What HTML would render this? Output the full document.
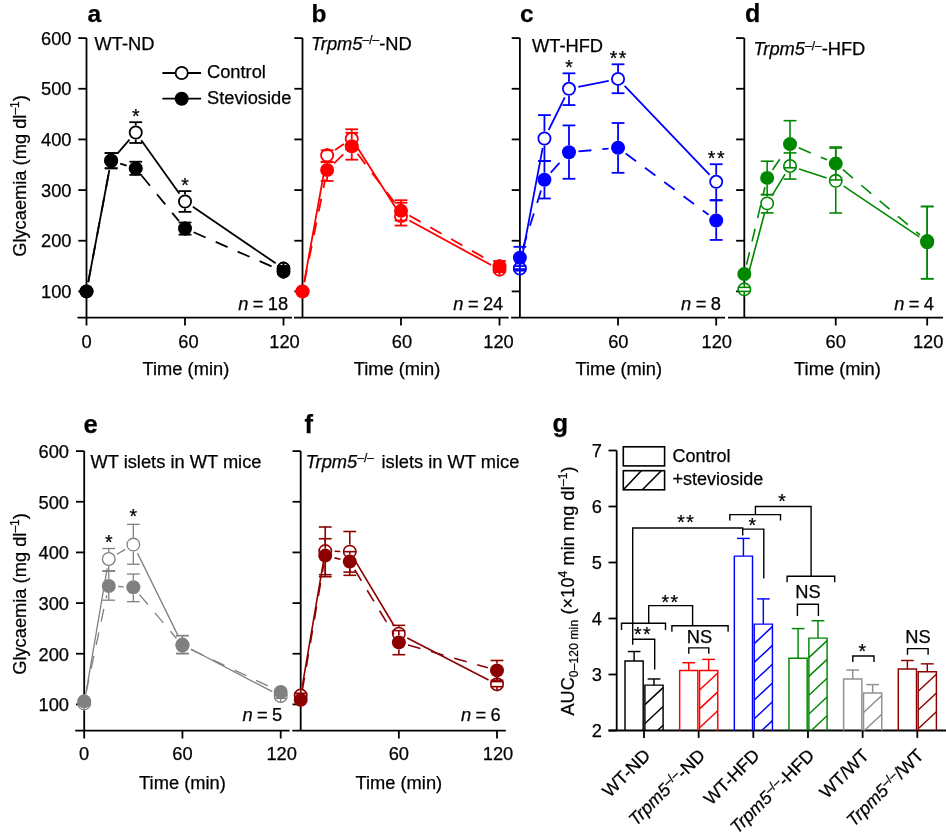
<!DOCTYPE html>
<html><head><meta charset="utf-8"><style>
html,body{margin:0;padding:0;background:#fff;width:946px;height:839px;overflow:hidden;}
svg{will-change:transform;}
svg text{font-family:"Liberation Sans", sans-serif;stroke:#000;stroke-width:0.25px;}
</style></head><body>
<svg width="946" height="839" viewBox="0 0 946 839" style="position:absolute;left:0;top:0">
<g font-family='"Liberation Sans", sans-serif'>
<line x1="86.50" y1="38.10" x2="86.50" y2="325.50" stroke="#000" stroke-width="1.8" />
<line x1="77.50" y1="317.60" x2="292.00" y2="317.60" stroke="#000" stroke-width="1.8" />
<line x1="78.30" y1="291.40" x2="86.50" y2="291.40" stroke="#000" stroke-width="1.8" />
<line x1="78.30" y1="240.74" x2="86.50" y2="240.74" stroke="#000" stroke-width="1.8" />
<line x1="78.30" y1="190.08" x2="86.50" y2="190.08" stroke="#000" stroke-width="1.8" />
<line x1="78.30" y1="139.42" x2="86.50" y2="139.42" stroke="#000" stroke-width="1.8" />
<line x1="78.30" y1="88.76" x2="86.50" y2="88.76" stroke="#000" stroke-width="1.8" />
<line x1="78.30" y1="38.10" x2="86.50" y2="38.10" stroke="#000" stroke-width="1.8" />
<line x1="185.00" y1="317.60" x2="185.00" y2="325.50" stroke="#000" stroke-width="1.8" />
<line x1="283.50" y1="317.60" x2="283.50" y2="325.50" stroke="#000" stroke-width="1.8" />
<path d="M88.26,282.06 L109.37,170.03 M117.37,153.54 L129.50,139.64 M141.27,140.21 L179.48,193.75 M192.85,206.83 L275.65,263.25 " fill="none" stroke="#000" stroke-width="1.8"/>
<circle cx="86.50" cy="291.40" r="6.10" fill="#fff" stroke="#000" stroke-width="1.8"/>
<circle cx="111.12" cy="160.70" r="6.10" fill="#fff" stroke="#000" stroke-width="1.8"/>
<circle cx="135.75" cy="132.48" r="6.10" fill="#fff" stroke="#000" stroke-width="1.8"/>
<circle cx="185.00" cy="201.48" r="6.10" fill="#fff" stroke="#000" stroke-width="1.8"/>
<circle cx="283.50" cy="268.60" r="6.10" fill="#fff" stroke="#000" stroke-width="1.8"/>
<line x1="111.12" y1="153.10" x2="111.12" y2="153.70" stroke="#000" stroke-width="1.8" />
<line x1="111.12" y1="167.70" x2="111.12" y2="168.30" stroke="#000" stroke-width="1.8" />
<line x1="104.72" y1="153.10" x2="117.53" y2="153.10" stroke="#000" stroke-width="1.8" />
<line x1="104.72" y1="168.30" x2="117.53" y2="168.30" stroke="#000" stroke-width="1.8" />
<line x1="135.75" y1="122.20" x2="135.75" y2="125.48" stroke="#000" stroke-width="1.8" />
<line x1="135.75" y1="139.48" x2="135.75" y2="142.97" stroke="#000" stroke-width="1.8" />
<line x1="129.35" y1="122.20" x2="142.15" y2="122.20" stroke="#000" stroke-width="1.8" />
<line x1="129.35" y1="142.97" x2="142.15" y2="142.97" stroke="#000" stroke-width="1.8" />
<line x1="185.00" y1="191.09" x2="185.00" y2="194.48" stroke="#000" stroke-width="1.8" />
<line x1="185.00" y1="208.48" x2="185.00" y2="211.86" stroke="#000" stroke-width="1.8" />
<line x1="178.60" y1="191.09" x2="191.40" y2="191.09" stroke="#000" stroke-width="1.8" />
<line x1="178.60" y1="211.86" x2="191.40" y2="211.86" stroke="#000" stroke-width="1.8" />
<line x1="283.50" y1="266.07" x2="283.50" y2="261.60" stroke="#000" stroke-width="1.8" />
<line x1="283.50" y1="275.60" x2="283.50" y2="271.14" stroke="#000" stroke-width="1.8" />
<line x1="277.10" y1="266.07" x2="289.90" y2="266.07" stroke="#000" stroke-width="1.8" />
<line x1="277.10" y1="271.14" x2="289.90" y2="271.14" stroke="#000" stroke-width="1.8" />
<path d="M88.26,282.06 L109.37,170.03 M120.19,163.53 L126.68,165.56 M141.77,175.74 L178.98,221.13 M193.70,232.29 L274.80,267.83 " fill="none" stroke="#000" stroke-width="1.8" stroke-dasharray="13 11"/>
<circle cx="86.50" cy="291.40" r="7.0" fill="#000"/>
<circle cx="111.12" cy="160.70" r="7.0" fill="#000"/>
<circle cx="135.75" cy="168.40" r="7.0" fill="#000"/>
<circle cx="185.00" cy="228.48" r="7.0" fill="#000"/>
<circle cx="283.50" cy="271.64" r="7.0" fill="#000"/>
<line x1="111.12" y1="153.10" x2="111.12" y2="153.70" stroke="#000" stroke-width="1.8" />
<line x1="111.12" y1="167.70" x2="111.12" y2="168.30" stroke="#000" stroke-width="1.8" />
<line x1="104.72" y1="153.10" x2="117.53" y2="153.10" stroke="#000" stroke-width="1.8" />
<line x1="104.72" y1="168.30" x2="117.53" y2="168.30" stroke="#000" stroke-width="1.8" />
<line x1="135.75" y1="161.71" x2="135.75" y2="161.40" stroke="#000" stroke-width="1.8" />
<line x1="135.75" y1="175.40" x2="135.75" y2="174.88" stroke="#000" stroke-width="1.8" />
<line x1="129.35" y1="161.71" x2="142.15" y2="161.71" stroke="#000" stroke-width="1.8" />
<line x1="129.35" y1="174.88" x2="142.15" y2="174.88" stroke="#000" stroke-width="1.8" />
<line x1="185.00" y1="222.50" x2="185.00" y2="221.48" stroke="#000" stroke-width="1.8" />
<line x1="185.00" y1="235.48" x2="185.00" y2="234.66" stroke="#000" stroke-width="1.8" />
<line x1="178.60" y1="222.50" x2="191.40" y2="222.50" stroke="#000" stroke-width="1.8" />
<line x1="178.60" y1="234.66" x2="191.40" y2="234.66" stroke="#000" stroke-width="1.8" />
<line x1="283.50" y1="269.11" x2="283.50" y2="264.64" stroke="#000" stroke-width="1.8" />
<line x1="283.50" y1="278.64" x2="283.50" y2="274.18" stroke="#000" stroke-width="1.8" />
<line x1="277.10" y1="269.11" x2="289.90" y2="269.11" stroke="#000" stroke-width="1.8" />
<line x1="277.10" y1="274.18" x2="289.90" y2="274.18" stroke="#000" stroke-width="1.8" />
<text x="136.50" y="122.60" font-size="19.5" text-anchor="middle" font-weight="normal" font-style="normal" fill="#000" letter-spacing="1.5">*</text>
<text x="185.75" y="191.50" font-size="19.5" text-anchor="middle" font-weight="normal" font-style="normal" fill="#000" letter-spacing="1.5">*</text>
<line x1="302.50" y1="38.10" x2="302.50" y2="317.60" stroke="#000" stroke-width="1.8" />
<line x1="294.00" y1="317.60" x2="508.60" y2="317.60" stroke="#000" stroke-width="1.8" />
<line x1="294.30" y1="291.40" x2="302.50" y2="291.40" stroke="#000" stroke-width="1.8" />
<line x1="294.30" y1="240.74" x2="302.50" y2="240.74" stroke="#000" stroke-width="1.8" />
<line x1="294.30" y1="190.08" x2="302.50" y2="190.08" stroke="#000" stroke-width="1.8" />
<line x1="294.30" y1="139.42" x2="302.50" y2="139.42" stroke="#000" stroke-width="1.8" />
<line x1="294.30" y1="88.76" x2="302.50" y2="88.76" stroke="#000" stroke-width="1.8" />
<line x1="294.30" y1="38.10" x2="302.50" y2="38.10" stroke="#000" stroke-width="1.8" />
<line x1="401.00" y1="317.60" x2="401.00" y2="325.50" stroke="#000" stroke-width="1.8" />
<line x1="499.50" y1="317.60" x2="499.50" y2="325.50" stroke="#000" stroke-width="1.8" />
<path d="M304.19,282.05 L325.43,164.68 M335.01,150.04 L343.86,144.10 M356.86,146.82 L395.89,208.01 M409.34,220.56 L491.16,265.08 " fill="none" stroke="#ff0000" stroke-width="1.8"/>
<circle cx="302.50" cy="291.40" r="6.10" fill="#fff" stroke="#ff0000" stroke-width="1.8"/>
<circle cx="327.12" cy="155.33" r="6.10" fill="#fff" stroke="#ff0000" stroke-width="1.8"/>
<circle cx="351.75" cy="138.81" r="6.10" fill="#fff" stroke="#ff0000" stroke-width="1.8"/>
<circle cx="401.00" cy="216.02" r="6.10" fill="#fff" stroke="#ff0000" stroke-width="1.8"/>
<circle cx="499.50" cy="269.62" r="6.10" fill="#fff" stroke="#ff0000" stroke-width="1.8"/>
<line x1="327.12" y1="150.31" x2="327.12" y2="148.33" stroke="#ff0000" stroke-width="1.8" />
<line x1="327.12" y1="162.33" x2="327.12" y2="161.71" stroke="#ff0000" stroke-width="1.8" />
<line x1="320.73" y1="150.31" x2="333.52" y2="150.31" stroke="#ff0000" stroke-width="1.8" />
<line x1="320.73" y1="161.71" x2="333.52" y2="161.71" stroke="#ff0000" stroke-width="1.8" />
<line x1="351.75" y1="129.29" x2="351.75" y2="131.81" stroke="#ff0000" stroke-width="1.8" />
<line x1="351.75" y1="145.81" x2="351.75" y2="149.55" stroke="#ff0000" stroke-width="1.8" />
<line x1="345.35" y1="129.29" x2="358.15" y2="129.29" stroke="#ff0000" stroke-width="1.8" />
<line x1="345.35" y1="149.55" x2="358.15" y2="149.55" stroke="#ff0000" stroke-width="1.8" />
<line x1="401.00" y1="200.21" x2="401.00" y2="209.02" stroke="#ff0000" stroke-width="1.8" />
<line x1="401.00" y1="223.02" x2="401.00" y2="225.54" stroke="#ff0000" stroke-width="1.8" />
<line x1="394.60" y1="200.21" x2="407.40" y2="200.21" stroke="#ff0000" stroke-width="1.8" />
<line x1="394.60" y1="225.54" x2="407.40" y2="225.54" stroke="#ff0000" stroke-width="1.8" />
<line x1="499.50" y1="266.07" x2="499.50" y2="262.62" stroke="#ff0000" stroke-width="1.8" />
<line x1="499.50" y1="276.62" x2="499.50" y2="272.15" stroke="#ff0000" stroke-width="1.8" />
<line x1="493.10" y1="266.07" x2="505.90" y2="266.07" stroke="#ff0000" stroke-width="1.8" />
<line x1="493.10" y1="272.15" x2="505.90" y2="272.15" stroke="#ff0000" stroke-width="1.8" />
<path d="M304.39,282.09 L325.24,179.33 M333.95,163.42 L344.92,152.81 M357.51,153.77 L395.24,203.29 M409.28,215.51 L491.22,261.66 " fill="none" stroke="#ff0000" stroke-width="1.8" stroke-dasharray="13 11"/>
<circle cx="302.50" cy="291.40" r="7.0" fill="#ff0000"/>
<circle cx="327.12" cy="170.02" r="7.0" fill="#ff0000"/>
<circle cx="351.75" cy="146.21" r="7.0" fill="#ff0000"/>
<circle cx="401.00" cy="210.85" r="7.0" fill="#ff0000"/>
<circle cx="499.50" cy="266.32" r="7.0" fill="#ff0000"/>
<line x1="327.12" y1="162.22" x2="327.12" y2="163.02" stroke="#ff0000" stroke-width="1.8" />
<line x1="327.12" y1="177.02" x2="327.12" y2="180.96" stroke="#ff0000" stroke-width="1.8" />
<line x1="320.73" y1="162.22" x2="333.52" y2="162.22" stroke="#ff0000" stroke-width="1.8" />
<line x1="320.73" y1="180.96" x2="333.52" y2="180.96" stroke="#ff0000" stroke-width="1.8" />
<line x1="351.75" y1="132.83" x2="351.75" y2="139.21" stroke="#ff0000" stroke-width="1.8" />
<line x1="351.75" y1="153.21" x2="351.75" y2="159.68" stroke="#ff0000" stroke-width="1.8" />
<line x1="345.35" y1="132.83" x2="358.15" y2="132.83" stroke="#ff0000" stroke-width="1.8" />
<line x1="345.35" y1="159.68" x2="358.15" y2="159.68" stroke="#ff0000" stroke-width="1.8" />
<line x1="401.00" y1="202.75" x2="401.00" y2="203.85" stroke="#ff0000" stroke-width="1.8" />
<line x1="401.00" y1="217.85" x2="401.00" y2="220.48" stroke="#ff0000" stroke-width="1.8" />
<line x1="394.60" y1="202.75" x2="407.40" y2="202.75" stroke="#ff0000" stroke-width="1.8" />
<line x1="394.60" y1="220.48" x2="407.40" y2="220.48" stroke="#ff0000" stroke-width="1.8" />
<line x1="499.50" y1="261.00" x2="499.50" y2="259.32" stroke="#ff0000" stroke-width="1.8" />
<line x1="499.50" y1="273.32" x2="499.50" y2="272.15" stroke="#ff0000" stroke-width="1.8" />
<line x1="493.10" y1="261.00" x2="505.90" y2="261.00" stroke="#ff0000" stroke-width="1.8" />
<line x1="493.10" y1="272.15" x2="505.90" y2="272.15" stroke="#ff0000" stroke-width="1.8" />
<line x1="519.90" y1="38.10" x2="519.90" y2="317.60" stroke="#000" stroke-width="1.8" />
<line x1="511.10" y1="317.60" x2="725.10" y2="317.60" stroke="#000" stroke-width="1.8" />
<line x1="511.70" y1="291.40" x2="519.90" y2="291.40" stroke="#000" stroke-width="1.8" />
<line x1="511.70" y1="240.74" x2="519.90" y2="240.74" stroke="#000" stroke-width="1.8" />
<line x1="511.70" y1="190.08" x2="519.90" y2="190.08" stroke="#000" stroke-width="1.8" />
<line x1="511.70" y1="139.42" x2="519.90" y2="139.42" stroke="#000" stroke-width="1.8" />
<line x1="511.70" y1="88.76" x2="519.90" y2="88.76" stroke="#000" stroke-width="1.8" />
<line x1="511.70" y1="38.10" x2="519.90" y2="38.10" stroke="#000" stroke-width="1.8" />
<line x1="618.05" y1="317.60" x2="618.05" y2="325.50" stroke="#000" stroke-width="1.8" />
<line x1="716.20" y1="317.60" x2="716.20" y2="325.50" stroke="#000" stroke-width="1.8" />
<path d="M521.66,259.17 L542.68,147.84 M548.64,129.99 L564.77,97.33 M578.29,86.93 L608.74,80.77 M624.61,85.76 L709.64,174.95 " fill="none" stroke="#0000ff" stroke-width="1.8"/>
<circle cx="519.90" cy="268.50" r="6.10" fill="#fff" stroke="#0000ff" stroke-width="1.8"/>
<circle cx="544.44" cy="138.51" r="6.10" fill="#fff" stroke="#0000ff" stroke-width="1.8"/>
<circle cx="568.98" cy="88.81" r="6.10" fill="#fff" stroke="#0000ff" stroke-width="1.8"/>
<circle cx="618.05" cy="78.88" r="6.10" fill="#fff" stroke="#0000ff" stroke-width="1.8"/>
<circle cx="716.20" cy="181.82" r="6.10" fill="#fff" stroke="#0000ff" stroke-width="1.8"/>
<line x1="519.90" y1="266.07" x2="519.90" y2="261.50" stroke="#0000ff" stroke-width="1.8" />
<line x1="519.90" y1="275.50" x2="519.90" y2="270.63" stroke="#0000ff" stroke-width="1.8" />
<line x1="513.50" y1="266.07" x2="526.30" y2="266.07" stroke="#0000ff" stroke-width="1.8" />
<line x1="513.50" y1="270.63" x2="526.30" y2="270.63" stroke="#0000ff" stroke-width="1.8" />
<line x1="544.44" y1="115.10" x2="544.44" y2="131.51" stroke="#0000ff" stroke-width="1.8" />
<line x1="544.44" y1="145.51" x2="544.44" y2="160.90" stroke="#0000ff" stroke-width="1.8" />
<line x1="538.04" y1="115.10" x2="550.84" y2="115.10" stroke="#0000ff" stroke-width="1.8" />
<line x1="538.04" y1="160.90" x2="550.84" y2="160.90" stroke="#0000ff" stroke-width="1.8" />
<line x1="568.98" y1="73.31" x2="568.98" y2="81.81" stroke="#0000ff" stroke-width="1.8" />
<line x1="568.98" y1="95.81" x2="568.98" y2="105.07" stroke="#0000ff" stroke-width="1.8" />
<line x1="562.58" y1="73.31" x2="575.38" y2="73.31" stroke="#0000ff" stroke-width="1.8" />
<line x1="562.58" y1="105.07" x2="575.38" y2="105.07" stroke="#0000ff" stroke-width="1.8" />
<line x1="618.05" y1="64.29" x2="618.05" y2="71.88" stroke="#0000ff" stroke-width="1.8" />
<line x1="618.05" y1="85.88" x2="618.05" y2="93.22" stroke="#0000ff" stroke-width="1.8" />
<line x1="611.65" y1="64.29" x2="624.45" y2="64.29" stroke="#0000ff" stroke-width="1.8" />
<line x1="611.65" y1="93.22" x2="624.45" y2="93.22" stroke="#0000ff" stroke-width="1.8" />
<line x1="716.20" y1="164.24" x2="716.20" y2="174.82" stroke="#0000ff" stroke-width="1.8" />
<line x1="716.20" y1="188.82" x2="716.20" y2="200.01" stroke="#0000ff" stroke-width="1.8" />
<line x1="709.80" y1="164.24" x2="722.60" y2="164.24" stroke="#0000ff" stroke-width="1.8" />
<line x1="709.80" y1="200.01" x2="722.60" y2="200.01" stroke="#0000ff" stroke-width="1.8" />
<path d="M522.75,248.75 L541.59,188.76 M550.77,172.62 L562.64,159.37 M578.44,151.42 L608.59,148.65 M625.68,153.43 L708.57,214.82 " fill="none" stroke="#0000ff" stroke-width="1.8" stroke-dasharray="13 11"/>
<circle cx="519.90" cy="257.81" r="7.0" fill="#0000ff"/>
<circle cx="544.44" cy="179.69" r="7.0" fill="#0000ff"/>
<circle cx="568.98" cy="152.29" r="7.0" fill="#0000ff"/>
<circle cx="618.05" cy="147.78" r="7.0" fill="#0000ff"/>
<circle cx="716.20" cy="220.48" r="7.0" fill="#0000ff"/>
<line x1="519.90" y1="246.82" x2="519.90" y2="250.81" stroke="#0000ff" stroke-width="1.8" />
<line x1="519.90" y1="264.81" x2="519.90" y2="269.11" stroke="#0000ff" stroke-width="1.8" />
<line x1="513.50" y1="246.82" x2="526.30" y2="246.82" stroke="#0000ff" stroke-width="1.8" />
<line x1="513.50" y1="269.11" x2="526.30" y2="269.11" stroke="#0000ff" stroke-width="1.8" />
<line x1="544.44" y1="160.90" x2="544.44" y2="172.69" stroke="#0000ff" stroke-width="1.8" />
<line x1="544.44" y1="186.69" x2="544.44" y2="198.49" stroke="#0000ff" stroke-width="1.8" />
<line x1="538.04" y1="160.90" x2="550.84" y2="160.90" stroke="#0000ff" stroke-width="1.8" />
<line x1="538.04" y1="198.49" x2="550.84" y2="198.49" stroke="#0000ff" stroke-width="1.8" />
<line x1="568.98" y1="125.39" x2="568.98" y2="145.29" stroke="#0000ff" stroke-width="1.8" />
<line x1="568.98" y1="159.29" x2="568.98" y2="178.78" stroke="#0000ff" stroke-width="1.8" />
<line x1="562.58" y1="125.39" x2="575.38" y2="125.39" stroke="#0000ff" stroke-width="1.8" />
<line x1="562.58" y1="178.78" x2="575.38" y2="178.78" stroke="#0000ff" stroke-width="1.8" />
<line x1="618.05" y1="123.01" x2="618.05" y2="140.78" stroke="#0000ff" stroke-width="1.8" />
<line x1="618.05" y1="154.78" x2="618.05" y2="172.80" stroke="#0000ff" stroke-width="1.8" />
<line x1="611.65" y1="123.01" x2="624.45" y2="123.01" stroke="#0000ff" stroke-width="1.8" />
<line x1="611.65" y1="172.80" x2="624.45" y2="172.80" stroke="#0000ff" stroke-width="1.8" />
<line x1="716.20" y1="200.47" x2="716.20" y2="213.48" stroke="#0000ff" stroke-width="1.8" />
<line x1="716.20" y1="227.48" x2="716.20" y2="239.93" stroke="#0000ff" stroke-width="1.8" />
<line x1="709.80" y1="200.47" x2="722.60" y2="200.47" stroke="#0000ff" stroke-width="1.8" />
<line x1="709.80" y1="239.93" x2="722.60" y2="239.93" stroke="#0000ff" stroke-width="1.8" />
<text x="569.73" y="73.50" font-size="19.5" text-anchor="middle" font-weight="normal" font-style="normal" fill="#000" letter-spacing="1.5">*</text>
<text x="618.80" y="64.60" font-size="19.5" text-anchor="middle" font-weight="normal" font-style="normal" fill="#000" letter-spacing="1.5">**</text>
<text x="716.95" y="165.00" font-size="19.5" text-anchor="middle" font-weight="normal" font-style="normal" fill="#000" letter-spacing="1.5">**</text>
<line x1="744.30" y1="38.10" x2="744.30" y2="317.60" stroke="#000" stroke-width="1.8" />
<line x1="728.00" y1="317.60" x2="943.00" y2="317.60" stroke="#000" stroke-width="1.8" />
<line x1="736.10" y1="291.40" x2="744.30" y2="291.40" stroke="#000" stroke-width="1.8" />
<line x1="736.10" y1="240.74" x2="744.30" y2="240.74" stroke="#000" stroke-width="1.8" />
<line x1="736.10" y1="190.08" x2="744.30" y2="190.08" stroke="#000" stroke-width="1.8" />
<line x1="736.10" y1="139.42" x2="744.30" y2="139.42" stroke="#000" stroke-width="1.8" />
<line x1="736.10" y1="88.76" x2="744.30" y2="88.76" stroke="#000" stroke-width="1.8" />
<line x1="736.10" y1="38.10" x2="744.30" y2="38.10" stroke="#000" stroke-width="1.8" />
<line x1="835.75" y1="317.60" x2="835.75" y2="325.50" stroke="#000" stroke-width="1.8" />
<line x1="927.20" y1="317.60" x2="927.20" y2="325.50" stroke="#000" stroke-width="1.8" />
<path d="M746.74,280.19 L764.72,212.58 M772.12,195.30 L785.07,174.12 M799.06,168.94 L826.71,177.89 M843.64,186.11 L919.31,236.96 " fill="none" stroke="#008700" stroke-width="1.6"/>
<circle cx="744.30" cy="289.37" r="6.20" fill="#fff" stroke="#008700" stroke-width="1.6"/>
<circle cx="767.16" cy="203.40" r="6.20" fill="#fff" stroke="#008700" stroke-width="1.6"/>
<circle cx="790.02" cy="166.02" r="6.20" fill="#fff" stroke="#008700" stroke-width="1.6"/>
<circle cx="835.75" cy="180.81" r="6.20" fill="#fff" stroke="#008700" stroke-width="1.6"/>
<circle cx="927.20" cy="242.26" r="6.20" fill="#fff" stroke="#008700" stroke-width="1.6"/>
<line x1="744.30" y1="287.35" x2="744.30" y2="282.37" stroke="#008700" stroke-width="1.6" />
<line x1="744.30" y1="296.37" x2="744.30" y2="291.40" stroke="#008700" stroke-width="1.6" />
<line x1="737.90" y1="287.35" x2="750.70" y2="287.35" stroke="#008700" stroke-width="1.6" />
<line x1="737.90" y1="291.40" x2="750.70" y2="291.40" stroke="#008700" stroke-width="1.6" />
<line x1="767.16" y1="194.64" x2="767.16" y2="196.40" stroke="#008700" stroke-width="1.6" />
<line x1="767.16" y1="210.40" x2="767.16" y2="212.88" stroke="#008700" stroke-width="1.6" />
<line x1="760.76" y1="194.64" x2="773.56" y2="194.64" stroke="#008700" stroke-width="1.6" />
<line x1="760.76" y1="212.88" x2="773.56" y2="212.88" stroke="#008700" stroke-width="1.6" />
<line x1="790.02" y1="152.90" x2="790.02" y2="159.02" stroke="#008700" stroke-width="1.6" />
<line x1="790.02" y1="173.02" x2="790.02" y2="179.09" stroke="#008700" stroke-width="1.6" />
<line x1="783.62" y1="152.90" x2="796.42" y2="152.90" stroke="#008700" stroke-width="1.6" />
<line x1="783.62" y1="179.09" x2="796.42" y2="179.09" stroke="#008700" stroke-width="1.6" />
<line x1="835.75" y1="148.03" x2="835.75" y2="173.81" stroke="#008700" stroke-width="1.6" />
<line x1="835.75" y1="187.81" x2="835.75" y2="212.98" stroke="#008700" stroke-width="1.6" />
<line x1="829.35" y1="148.03" x2="842.15" y2="148.03" stroke="#008700" stroke-width="1.6" />
<line x1="829.35" y1="212.98" x2="842.15" y2="212.98" stroke="#008700" stroke-width="1.6" />
<line x1="927.20" y1="206.49" x2="927.20" y2="235.26" stroke="#008700" stroke-width="1.6" />
<line x1="927.20" y1="249.26" x2="927.20" y2="278.74" stroke="#008700" stroke-width="1.6" />
<line x1="920.80" y1="206.49" x2="933.60" y2="206.49" stroke="#008700" stroke-width="1.6" />
<line x1="920.80" y1="278.74" x2="933.60" y2="278.74" stroke="#008700" stroke-width="1.6" />
<path d="M746.50,264.78 L764.96,187.16 M772.48,170.05 L784.71,151.95 M798.76,147.81 L827.01,159.86 M843.00,169.73 L919.95,234.95 " fill="none" stroke="#008700" stroke-width="1.6" stroke-dasharray="13 11"/>
<circle cx="744.30" cy="274.02" r="7.0" fill="#008700"/>
<circle cx="767.16" cy="177.92" r="7.0" fill="#008700"/>
<circle cx="790.02" cy="144.08" r="7.0" fill="#008700"/>
<circle cx="835.75" cy="163.58" r="7.0" fill="#008700"/>
<circle cx="927.20" cy="241.09" r="7.0" fill="#008700"/>
<line x1="744.30" y1="272.15" x2="744.30" y2="267.02" stroke="#008700" stroke-width="1.6" />
<line x1="744.30" y1="281.02" x2="744.30" y2="276.20" stroke="#008700" stroke-width="1.6" />
<line x1="737.90" y1="272.15" x2="750.70" y2="272.15" stroke="#008700" stroke-width="1.6" />
<line x1="737.90" y1="276.20" x2="750.70" y2="276.20" stroke="#008700" stroke-width="1.6" />
<line x1="767.16" y1="161.20" x2="767.16" y2="170.92" stroke="#008700" stroke-width="1.6" />
<line x1="767.16" y1="184.92" x2="767.16" y2="194.64" stroke="#008700" stroke-width="1.6" />
<line x1="760.76" y1="161.20" x2="773.56" y2="161.20" stroke="#008700" stroke-width="1.6" />
<line x1="760.76" y1="194.64" x2="773.56" y2="194.64" stroke="#008700" stroke-width="1.6" />
<line x1="790.02" y1="120.68" x2="790.02" y2="137.08" stroke="#008700" stroke-width="1.6" />
<line x1="790.02" y1="151.08" x2="790.02" y2="167.79" stroke="#008700" stroke-width="1.6" />
<line x1="783.62" y1="120.68" x2="796.42" y2="120.68" stroke="#008700" stroke-width="1.6" />
<line x1="783.62" y1="167.79" x2="796.42" y2="167.79" stroke="#008700" stroke-width="1.6" />
<line x1="835.75" y1="147.02" x2="835.75" y2="156.58" stroke="#008700" stroke-width="1.6" />
<line x1="835.75" y1="170.58" x2="835.75" y2="179.95" stroke="#008700" stroke-width="1.6" />
<line x1="829.35" y1="147.02" x2="842.15" y2="147.02" stroke="#008700" stroke-width="1.6" />
<line x1="829.35" y1="179.95" x2="842.15" y2="179.95" stroke="#008700" stroke-width="1.6" />
<line x1="927.20" y1="206.49" x2="927.20" y2="234.09" stroke="#008700" stroke-width="1.6" />
<line x1="927.20" y1="248.09" x2="927.20" y2="278.74" stroke="#008700" stroke-width="1.6" />
<line x1="920.80" y1="206.49" x2="933.60" y2="206.49" stroke="#008700" stroke-width="1.6" />
<line x1="920.80" y1="278.74" x2="933.60" y2="278.74" stroke="#008700" stroke-width="1.6" />
<line x1="84.20" y1="451.10" x2="84.20" y2="738.50" stroke="#000" stroke-width="1.8" />
<line x1="75.20" y1="730.60" x2="289.60" y2="730.60" stroke="#000" stroke-width="1.8" />
<line x1="76.00" y1="704.40" x2="84.20" y2="704.40" stroke="#000" stroke-width="1.8" />
<line x1="76.00" y1="653.74" x2="84.20" y2="653.74" stroke="#000" stroke-width="1.8" />
<line x1="76.00" y1="603.08" x2="84.20" y2="603.08" stroke="#000" stroke-width="1.8" />
<line x1="76.00" y1="552.42" x2="84.20" y2="552.42" stroke="#000" stroke-width="1.8" />
<line x1="76.00" y1="501.76" x2="84.20" y2="501.76" stroke="#000" stroke-width="1.8" />
<line x1="76.00" y1="451.10" x2="84.20" y2="451.10" stroke="#000" stroke-width="1.8" />
<line x1="182.45" y1="730.60" x2="182.45" y2="738.50" stroke="#000" stroke-width="1.8" />
<line x1="280.70" y1="730.60" x2="280.70" y2="738.50" stroke="#000" stroke-width="1.8" />
<path d="M85.79,694.02 L107.17,568.37 M116.96,554.20 L125.13,549.42 M137.51,553.15 L178.26,636.09 M190.87,649.03 L272.28,691.68 " fill="none" stroke="#808080" stroke-width="1.3"/>
<circle cx="84.20" cy="703.39" r="6.35" fill="#fff" stroke="#808080" stroke-width="1.3"/>
<circle cx="108.76" cy="559.01" r="6.35" fill="#fff" stroke="#808080" stroke-width="1.3"/>
<circle cx="133.32" cy="544.62" r="6.35" fill="#fff" stroke="#808080" stroke-width="1.3"/>
<circle cx="182.45" cy="644.62" r="6.35" fill="#fff" stroke="#808080" stroke-width="1.3"/>
<circle cx="280.70" cy="696.09" r="6.35" fill="#fff" stroke="#808080" stroke-width="1.3"/>
<line x1="84.20" y1="701.87" x2="84.20" y2="696.39" stroke="#808080" stroke-width="1.3" />
<line x1="84.20" y1="710.39" x2="84.20" y2="704.91" stroke="#808080" stroke-width="1.3" />
<line x1="77.80" y1="701.87" x2="90.60" y2="701.87" stroke="#808080" stroke-width="1.3" />
<line x1="77.80" y1="704.91" x2="90.60" y2="704.91" stroke="#808080" stroke-width="1.3" />
<line x1="108.76" y1="548.52" x2="108.76" y2="552.01" stroke="#808080" stroke-width="1.3" />
<line x1="108.76" y1="566.01" x2="108.76" y2="570.81" stroke="#808080" stroke-width="1.3" />
<line x1="102.36" y1="548.52" x2="115.16" y2="548.52" stroke="#808080" stroke-width="1.3" />
<line x1="102.36" y1="570.81" x2="115.16" y2="570.81" stroke="#808080" stroke-width="1.3" />
<line x1="133.32" y1="524.35" x2="133.32" y2="537.62" stroke="#808080" stroke-width="1.3" />
<line x1="133.32" y1="551.62" x2="133.32" y2="564.22" stroke="#808080" stroke-width="1.3" />
<line x1="126.92" y1="524.35" x2="139.72" y2="524.35" stroke="#808080" stroke-width="1.3" />
<line x1="126.92" y1="564.22" x2="139.72" y2="564.22" stroke="#808080" stroke-width="1.3" />
<line x1="182.45" y1="635.50" x2="182.45" y2="637.62" stroke="#808080" stroke-width="1.3" />
<line x1="182.45" y1="651.62" x2="182.45" y2="653.23" stroke="#808080" stroke-width="1.3" />
<line x1="176.05" y1="635.50" x2="188.85" y2="635.50" stroke="#808080" stroke-width="1.3" />
<line x1="176.05" y1="653.23" x2="188.85" y2="653.23" stroke="#808080" stroke-width="1.3" />
<line x1="280.70" y1="693.76" x2="280.70" y2="689.09" stroke="#808080" stroke-width="1.3" />
<line x1="280.70" y1="703.09" x2="280.70" y2="698.32" stroke="#808080" stroke-width="1.3" />
<line x1="274.30" y1="693.76" x2="287.10" y2="693.76" stroke="#808080" stroke-width="1.3" />
<line x1="274.30" y1="698.32" x2="287.10" y2="698.32" stroke="#808080" stroke-width="1.3" />
<path d="M86.18,692.07 L106.78,595.30 M118.25,586.52 L123.84,586.82 M139.46,594.58 L176.32,638.23 M191.04,649.55 L272.11,687.92 " fill="none" stroke="#808080" stroke-width="1.3" stroke-dasharray="13 11"/>
<circle cx="84.20" cy="701.36" r="7.0" fill="#808080"/>
<circle cx="108.76" cy="586.01" r="7.0" fill="#808080"/>
<circle cx="133.32" cy="587.32" r="7.0" fill="#808080"/>
<circle cx="182.45" cy="645.48" r="7.0" fill="#808080"/>
<circle cx="280.70" cy="691.99" r="7.0" fill="#808080"/>
<line x1="84.20" y1="699.84" x2="84.20" y2="694.36" stroke="#808080" stroke-width="1.3" />
<line x1="84.20" y1="708.36" x2="84.20" y2="702.88" stroke="#808080" stroke-width="1.3" />
<line x1="77.80" y1="699.84" x2="90.60" y2="699.84" stroke="#808080" stroke-width="1.3" />
<line x1="77.80" y1="702.88" x2="90.60" y2="702.88" stroke="#808080" stroke-width="1.3" />
<line x1="108.76" y1="571.32" x2="108.76" y2="579.01" stroke="#808080" stroke-width="1.3" />
<line x1="108.76" y1="593.01" x2="108.76" y2="600.19" stroke="#808080" stroke-width="1.3" />
<line x1="102.36" y1="571.32" x2="115.16" y2="571.32" stroke="#808080" stroke-width="1.3" />
<line x1="102.36" y1="600.19" x2="115.16" y2="600.19" stroke="#808080" stroke-width="1.3" />
<line x1="133.32" y1="574.05" x2="133.32" y2="580.32" stroke="#808080" stroke-width="1.3" />
<line x1="133.32" y1="594.32" x2="133.32" y2="601.66" stroke="#808080" stroke-width="1.3" />
<line x1="126.92" y1="574.05" x2="139.72" y2="574.05" stroke="#808080" stroke-width="1.3" />
<line x1="126.92" y1="601.66" x2="139.72" y2="601.66" stroke="#808080" stroke-width="1.3" />
<line x1="182.45" y1="635.81" x2="182.45" y2="638.48" stroke="#808080" stroke-width="1.3" />
<line x1="182.45" y1="652.48" x2="182.45" y2="653.89" stroke="#808080" stroke-width="1.3" />
<line x1="176.05" y1="635.81" x2="188.85" y2="635.81" stroke="#808080" stroke-width="1.3" />
<line x1="176.05" y1="653.89" x2="188.85" y2="653.89" stroke="#808080" stroke-width="1.3" />
<line x1="280.70" y1="689.71" x2="280.70" y2="684.99" stroke="#808080" stroke-width="1.3" />
<line x1="280.70" y1="698.99" x2="280.70" y2="694.27" stroke="#808080" stroke-width="1.3" />
<line x1="274.30" y1="689.71" x2="287.10" y2="689.71" stroke="#808080" stroke-width="1.3" />
<line x1="274.30" y1="694.27" x2="287.10" y2="694.27" stroke="#808080" stroke-width="1.3" />
<text x="109.51" y="549.40" font-size="19.5" text-anchor="middle" font-weight="normal" font-style="normal" fill="#000" letter-spacing="1.5">*</text>
<text x="134.07" y="523.20" font-size="19.5" text-anchor="middle" font-weight="normal" font-style="normal" fill="#000" letter-spacing="1.5">*</text>
<line x1="300.70" y1="451.10" x2="300.70" y2="730.60" stroke="#000" stroke-width="1.8" />
<line x1="292.20" y1="730.60" x2="505.80" y2="730.60" stroke="#000" stroke-width="1.8" />
<line x1="292.50" y1="704.40" x2="300.70" y2="704.40" stroke="#000" stroke-width="1.8" />
<line x1="292.50" y1="653.74" x2="300.70" y2="653.74" stroke="#000" stroke-width="1.8" />
<line x1="292.50" y1="603.08" x2="300.70" y2="603.08" stroke="#000" stroke-width="1.8" />
<line x1="292.50" y1="552.42" x2="300.70" y2="552.42" stroke="#000" stroke-width="1.8" />
<line x1="292.50" y1="501.76" x2="300.70" y2="501.76" stroke="#000" stroke-width="1.8" />
<line x1="292.50" y1="451.10" x2="300.70" y2="451.10" stroke="#000" stroke-width="1.8" />
<line x1="398.85" y1="730.60" x2="398.85" y2="738.50" stroke="#000" stroke-width="1.8" />
<line x1="497.00" y1="730.60" x2="497.00" y2="738.50" stroke="#000" stroke-width="1.8" />
<path d="M302.29,686.12 L323.65,560.47 M334.74,551.32 L340.28,551.44 M354.65,559.81 L393.97,625.53 M407.29,638.03 L488.56,679.93 " fill="none" stroke="#8c0000" stroke-width="1.6"/>
<circle cx="300.70" cy="695.48" r="6.20" fill="#fff" stroke="#8c0000" stroke-width="1.6"/>
<circle cx="325.24" cy="551.10" r="6.20" fill="#fff" stroke="#8c0000" stroke-width="1.6"/>
<circle cx="349.77" cy="551.66" r="6.20" fill="#fff" stroke="#8c0000" stroke-width="1.6"/>
<circle cx="398.85" cy="633.68" r="6.20" fill="#fff" stroke="#8c0000" stroke-width="1.6"/>
<circle cx="497.00" cy="684.29" r="6.20" fill="#fff" stroke="#8c0000" stroke-width="1.6"/>
<line x1="300.70" y1="693.25" x2="300.70" y2="688.48" stroke="#8c0000" stroke-width="1.6" />
<line x1="300.70" y1="702.48" x2="300.70" y2="697.81" stroke="#8c0000" stroke-width="1.6" />
<line x1="294.30" y1="693.25" x2="307.10" y2="693.25" stroke="#8c0000" stroke-width="1.6" />
<line x1="294.30" y1="697.81" x2="307.10" y2="697.81" stroke="#8c0000" stroke-width="1.6" />
<line x1="325.24" y1="526.99" x2="325.24" y2="544.10" stroke="#8c0000" stroke-width="1.6" />
<line x1="325.24" y1="558.10" x2="325.24" y2="574.71" stroke="#8c0000" stroke-width="1.6" />
<line x1="318.84" y1="526.99" x2="331.64" y2="526.99" stroke="#8c0000" stroke-width="1.6" />
<line x1="318.84" y1="574.71" x2="331.64" y2="574.71" stroke="#8c0000" stroke-width="1.6" />
<line x1="349.77" y1="531.50" x2="349.77" y2="544.66" stroke="#8c0000" stroke-width="1.6" />
<line x1="349.77" y1="558.66" x2="349.77" y2="572.08" stroke="#8c0000" stroke-width="1.6" />
<line x1="343.38" y1="531.50" x2="356.17" y2="531.50" stroke="#8c0000" stroke-width="1.6" />
<line x1="343.38" y1="572.08" x2="356.17" y2="572.08" stroke="#8c0000" stroke-width="1.6" />
<line x1="398.85" y1="625.37" x2="398.85" y2="626.68" stroke="#8c0000" stroke-width="1.6" />
<line x1="398.85" y1="640.68" x2="398.85" y2="642.09" stroke="#8c0000" stroke-width="1.6" />
<line x1="392.45" y1="625.37" x2="405.25" y2="625.37" stroke="#8c0000" stroke-width="1.6" />
<line x1="392.45" y1="642.09" x2="405.25" y2="642.09" stroke="#8c0000" stroke-width="1.6" />
<line x1="497.00" y1="681.60" x2="497.00" y2="677.29" stroke="#8c0000" stroke-width="1.6" />
<line x1="497.00" y1="691.29" x2="497.00" y2="686.67" stroke="#8c0000" stroke-width="1.6" />
<line x1="490.60" y1="681.60" x2="503.40" y2="681.60" stroke="#8c0000" stroke-width="1.6" />
<line x1="490.60" y1="686.67" x2="503.40" y2="686.67" stroke="#8c0000" stroke-width="1.6" />
<path d="M302.29,690.48 L323.64,564.98 M334.47,557.86 L340.54,559.34 M354.71,569.71 L393.92,634.27 M407.99,645.00 L487.86,667.80 " fill="none" stroke="#8c0000" stroke-width="1.6" stroke-dasharray="13 11"/>
<circle cx="300.70" cy="699.84" r="7.0" fill="#8c0000"/>
<circle cx="325.24" cy="555.61" r="7.0" fill="#8c0000"/>
<circle cx="349.77" cy="561.59" r="7.0" fill="#8c0000"/>
<circle cx="398.85" cy="642.39" r="7.0" fill="#8c0000"/>
<circle cx="497.00" cy="670.41" r="7.0" fill="#8c0000"/>
<line x1="300.70" y1="697.81" x2="300.70" y2="692.84" stroke="#8c0000" stroke-width="1.6" />
<line x1="300.70" y1="706.84" x2="300.70" y2="701.87" stroke="#8c0000" stroke-width="1.6" />
<line x1="294.30" y1="697.81" x2="307.10" y2="697.81" stroke="#8c0000" stroke-width="1.6" />
<line x1="294.30" y1="701.87" x2="307.10" y2="701.87" stroke="#8c0000" stroke-width="1.6" />
<line x1="325.24" y1="538.74" x2="325.24" y2="548.61" stroke="#8c0000" stroke-width="1.6" />
<line x1="325.24" y1="562.61" x2="325.24" y2="576.74" stroke="#8c0000" stroke-width="1.6" />
<line x1="318.84" y1="538.74" x2="331.64" y2="538.74" stroke="#8c0000" stroke-width="1.6" />
<line x1="318.84" y1="576.74" x2="331.64" y2="576.74" stroke="#8c0000" stroke-width="1.6" />
<line x1="349.77" y1="551.66" x2="349.77" y2="554.59" stroke="#8c0000" stroke-width="1.6" />
<line x1="349.77" y1="568.59" x2="349.77" y2="575.32" stroke="#8c0000" stroke-width="1.6" />
<line x1="343.38" y1="551.66" x2="356.17" y2="551.66" stroke="#8c0000" stroke-width="1.6" />
<line x1="343.38" y1="575.32" x2="356.17" y2="575.32" stroke="#8c0000" stroke-width="1.6" />
<line x1="398.85" y1="630.59" x2="398.85" y2="635.39" stroke="#8c0000" stroke-width="1.6" />
<line x1="398.85" y1="649.39" x2="398.85" y2="654.70" stroke="#8c0000" stroke-width="1.6" />
<line x1="392.45" y1="630.59" x2="405.25" y2="630.59" stroke="#8c0000" stroke-width="1.6" />
<line x1="392.45" y1="654.70" x2="405.25" y2="654.70" stroke="#8c0000" stroke-width="1.6" />
<line x1="497.00" y1="660.48" x2="497.00" y2="663.41" stroke="#8c0000" stroke-width="1.6" />
<line x1="497.00" y1="677.41" x2="497.00" y2="680.34" stroke="#8c0000" stroke-width="1.6" />
<line x1="490.60" y1="660.48" x2="503.40" y2="660.48" stroke="#8c0000" stroke-width="1.6" />
<line x1="490.60" y1="680.34" x2="503.40" y2="680.34" stroke="#8c0000" stroke-width="1.6" />
<text x="86.50" y="347.80" font-size="18.3" text-anchor="middle" font-weight="normal" font-style="normal" fill="#000" >0</text>
<text x="188.50" y="347.80" font-size="18.3" text-anchor="middle" font-weight="normal" font-style="normal" fill="#000" >60</text>
<text x="284.50" y="347.80" font-size="18.3" text-anchor="middle" font-weight="normal" font-style="normal" fill="#000" >120</text>
<text x="185.90" y="374.60" font-size="18.3" text-anchor="middle" font-weight="normal" font-style="normal" fill="#000" >Time (min)</text>
<text x="402.00" y="347.80" font-size="18.3" text-anchor="middle" font-weight="normal" font-style="normal" fill="#000" >60</text>
<text x="498.50" y="347.80" font-size="18.3" text-anchor="middle" font-weight="normal" font-style="normal" fill="#000" >120</text>
<text x="397.00" y="374.60" font-size="18.3" text-anchor="middle" font-weight="normal" font-style="normal" fill="#000" >Time (min)</text>
<text x="618.35" y="347.80" font-size="18.3" text-anchor="middle" font-weight="normal" font-style="normal" fill="#000" >60</text>
<text x="716.80" y="347.80" font-size="18.3" text-anchor="middle" font-weight="normal" font-style="normal" fill="#000" >120</text>
<text x="618.75" y="374.60" font-size="18.3" text-anchor="middle" font-weight="normal" font-style="normal" fill="#000" >Time (min)</text>
<text x="835.75" y="347.80" font-size="18.3" text-anchor="middle" font-weight="normal" font-style="normal" fill="#000" >60</text>
<text x="928.20" y="347.80" font-size="18.3" text-anchor="middle" font-weight="normal" font-style="normal" fill="#000" >120</text>
<text x="837.45" y="374.60" font-size="18.3" text-anchor="middle" font-weight="normal" font-style="normal" fill="#000" >Time (min)</text>
<text x="71.50" y="297.90" font-size="18.3" text-anchor="end" font-weight="normal" font-style="normal" fill="#000" >100</text>
<text x="71.50" y="247.24" font-size="18.3" text-anchor="end" font-weight="normal" font-style="normal" fill="#000" >200</text>
<text x="71.50" y="196.58" font-size="18.3" text-anchor="end" font-weight="normal" font-style="normal" fill="#000" >300</text>
<text x="71.50" y="145.92" font-size="18.3" text-anchor="end" font-weight="normal" font-style="normal" fill="#000" >400</text>
<text x="71.50" y="95.26" font-size="18.3" text-anchor="end" font-weight="normal" font-style="normal" fill="#000" >500</text>
<text x="71.50" y="44.60" font-size="18.3" text-anchor="end" font-weight="normal" font-style="normal" fill="#000" >600</text>
<text x="84.20" y="760.00" font-size="18.3" text-anchor="middle" font-weight="normal" font-style="normal" fill="#000" >0</text>
<text x="182.45" y="760.00" font-size="18.3" text-anchor="middle" font-weight="normal" font-style="normal" fill="#000" >60</text>
<text x="281.70" y="760.00" font-size="18.3" text-anchor="middle" font-weight="normal" font-style="normal" fill="#000" >120</text>
<text x="182.45" y="788.50" font-size="18.3" text-anchor="middle" font-weight="normal" font-style="normal" fill="#000" >Time (min)</text>
<text x="398.85" y="760.00" font-size="18.3" text-anchor="middle" font-weight="normal" font-style="normal" fill="#000" >60</text>
<text x="498.00" y="760.00" font-size="18.3" text-anchor="middle" font-weight="normal" font-style="normal" fill="#000" >120</text>
<text x="398.85" y="788.50" font-size="18.3" text-anchor="middle" font-weight="normal" font-style="normal" fill="#000" >Time (min)</text>
<text x="69.00" y="711.20" font-size="18.3" text-anchor="end" font-weight="normal" font-style="normal" fill="#000" >100</text>
<text x="69.00" y="660.54" font-size="18.3" text-anchor="end" font-weight="normal" font-style="normal" fill="#000" >200</text>
<text x="69.00" y="609.88" font-size="18.3" text-anchor="end" font-weight="normal" font-style="normal" fill="#000" >300</text>
<text x="69.00" y="559.22" font-size="18.3" text-anchor="end" font-weight="normal" font-style="normal" fill="#000" >400</text>
<text x="69.00" y="508.56" font-size="18.3" text-anchor="end" font-weight="normal" font-style="normal" fill="#000" >500</text>
<text x="69.00" y="457.90" font-size="18.3" text-anchor="end" font-weight="normal" font-style="normal" fill="#000" >600</text>
<text transform="translate(26,176) rotate(-90)" font-size="18.3" text-anchor="middle">Glycaemia (mg dl<tspan font-size="12" dy="-7">–1</tspan><tspan dy="7">)</tspan></text>
<text transform="translate(26,594) rotate(-90)" font-size="18.3" text-anchor="middle">Glycaemia (mg dl<tspan font-size="12" dy="-7">–1</tspan><tspan dy="7">)</tspan></text>
<text x="87.50" y="21.60" font-size="24.5" text-anchor="start" font-weight="bold" font-style="normal" fill="#000" >a</text>
<text x="311.50" y="22.20" font-size="24.5" text-anchor="start" font-weight="bold" font-style="normal" fill="#000" >b</text>
<text x="520.00" y="22.20" font-size="24.5" text-anchor="start" font-weight="bold" font-style="normal" fill="#000" >c</text>
<text x="745.00" y="22.30" font-size="25" text-anchor="start" font-weight="bold" font-style="normal" fill="#000" >d</text>
<text x="83.50" y="432.80" font-size="25.5" text-anchor="start" font-weight="bold" font-style="normal" fill="#000" >e</text>
<text x="304.50" y="432.80" font-size="25.5" text-anchor="start" font-weight="bold" font-style="normal" fill="#000" >f</text>
<text x="552.50" y="431.50" font-size="25.5" text-anchor="start" font-weight="bold" font-style="normal" fill="#000" >g</text>
<text x="94.60" y="49.80" font-size="18.3" text-anchor="start" font-weight="normal" font-style="normal" fill="#000" >WT-ND</text>
<text x="311.00" y="49.70" font-size="18.3" text-anchor="start" font-weight="normal" font-style="normal" fill="#000" ><tspan font-style="italic">Trpm5</tspan><tspan font-size="12" dy="-5.5">–/–</tspan><tspan dy="5.5">-ND</tspan></text>
<text x="532.00" y="52.30" font-size="18.3" text-anchor="start" font-weight="normal" font-style="normal" fill="#000" >WT-HFD</text>
<text x="753.50" y="55.30" font-size="18.3" text-anchor="start" font-weight="normal" font-style="normal" fill="#000" ><tspan font-style="italic">Trpm5</tspan><tspan font-size="12" dy="-5.5">–/–</tspan><tspan dy="5.5">-HFD</tspan></text>
<text x="90.50" y="467.60" font-size="18.3" text-anchor="start" font-weight="normal" font-style="normal" fill="#000" >WT islets in WT mice</text>
<text x="305.80" y="467.90" font-size="18.3" text-anchor="start" font-weight="normal" font-style="normal" fill="#000" ><tspan font-style="italic">Trpm5</tspan><tspan font-size="12" dy="-5.5">–/–</tspan><tspan dy="5.5" dx="2.5"> islets in WT mice</tspan></text>
<text x="288.20" y="309.70" font-size="18.3" text-anchor="end" font-weight="normal" font-style="normal" fill="#000" word-spacing="-0.7"><tspan font-style="italic">n</tspan> = 18</text>
<text x="503.30" y="310.30" font-size="18.3" text-anchor="end" font-weight="normal" font-style="normal" fill="#000" word-spacing="-0.7"><tspan font-style="italic">n</tspan> = 24</text>
<text x="720.90" y="309.80" font-size="18.3" text-anchor="end" font-weight="normal" font-style="normal" fill="#000" word-spacing="-0.7"><tspan font-style="italic">n</tspan> = 8</text>
<text x="934.00" y="309.80" font-size="18.3" text-anchor="end" font-weight="normal" font-style="normal" fill="#000" word-spacing="-0.7"><tspan font-style="italic">n</tspan> = 4</text>
<text x="282.20" y="721.10" font-size="18.3" text-anchor="end" font-weight="normal" font-style="normal" fill="#000" word-spacing="-0.7"><tspan font-style="italic">n</tspan> = 5</text>
<text x="500.80" y="721.10" font-size="18.3" text-anchor="end" font-weight="normal" font-style="normal" fill="#000" word-spacing="-0.7"><tspan font-style="italic">n</tspan> = 6</text>
<line x1="162.40" y1="73.00" x2="201.10" y2="73.00" stroke="#000" stroke-width="1.8" />
<circle cx="181.7" cy="73" r="6.1" fill="#fff" stroke="#000" stroke-width="1.8"/>
<line x1="162.40" y1="98.70" x2="201.10" y2="98.70" stroke="#000" stroke-width="1.8" />
<circle cx="181.7" cy="98.7" r="7" fill="#000"/>
<text x="207.00" y="77.70" font-size="18.3" text-anchor="start" font-weight="normal" font-style="normal" fill="#000" >Control</text>
<text x="207.00" y="103.90" font-size="18.3" text-anchor="start" font-weight="normal" font-style="normal" fill="#000" >Stevioside</text>
<line x1="616.70" y1="450.50" x2="616.70" y2="730.50" stroke="#000" stroke-width="1.8" />
<line x1="608.50" y1="730.50" x2="946.00" y2="730.50" stroke="#000" stroke-width="1.8" />
<line x1="608.50" y1="730.50" x2="616.70" y2="730.50" stroke="#000" stroke-width="1.8" />
<text x="602.00" y="736.80" font-size="18.3" text-anchor="end" font-weight="normal" font-style="normal" fill="#000" >2</text>
<line x1="608.50" y1="674.50" x2="616.70" y2="674.50" stroke="#000" stroke-width="1.8" />
<text x="602.00" y="680.80" font-size="18.3" text-anchor="end" font-weight="normal" font-style="normal" fill="#000" >3</text>
<line x1="608.50" y1="618.50" x2="616.70" y2="618.50" stroke="#000" stroke-width="1.8" />
<text x="602.00" y="624.80" font-size="18.3" text-anchor="end" font-weight="normal" font-style="normal" fill="#000" >4</text>
<line x1="608.50" y1="562.50" x2="616.70" y2="562.50" stroke="#000" stroke-width="1.8" />
<text x="602.00" y="568.80" font-size="18.3" text-anchor="end" font-weight="normal" font-style="normal" fill="#000" >5</text>
<line x1="608.50" y1="506.50" x2="616.70" y2="506.50" stroke="#000" stroke-width="1.8" />
<text x="602.00" y="512.80" font-size="18.3" text-anchor="end" font-weight="normal" font-style="normal" fill="#000" >6</text>
<line x1="608.50" y1="450.50" x2="616.70" y2="450.50" stroke="#000" stroke-width="1.8" />
<text x="602.00" y="456.80" font-size="18.3" text-anchor="end" font-weight="normal" font-style="normal" fill="#000" >7</text>
<line x1="644.00" y1="730.50" x2="644.00" y2="737.90" stroke="#000" stroke-width="1.8" />
<line x1="698.66" y1="730.50" x2="698.66" y2="737.90" stroke="#000" stroke-width="1.8" />
<line x1="753.32" y1="730.50" x2="753.32" y2="737.90" stroke="#000" stroke-width="1.8" />
<line x1="807.98" y1="730.50" x2="807.98" y2="737.90" stroke="#000" stroke-width="1.8" />
<line x1="862.64" y1="730.50" x2="862.64" y2="737.90" stroke="#000" stroke-width="1.8" />
<line x1="917.30" y1="730.50" x2="917.30" y2="737.90" stroke="#000" stroke-width="1.8" />
<path d="M625.00,730.5 V661.06 H643.20 V730.5" fill="none" stroke="#000" stroke-width="1.45"/>
<line x1="634.10" y1="661.06" x2="634.10" y2="651.54" stroke="#000" stroke-width="1.45" />
<line x1="627.70" y1="651.54" x2="640.50" y2="651.54" stroke="#000" stroke-width="1.45" />
<clipPath id="hc1"><rect x="644.90" y="685.14" width="18.20" height="45.36"/></clipPath>
<g clip-path="url(#hc1)">
<line x1="644.90" y1="704.64" x2="663.10" y2="687.64" stroke="#000" stroke-width="1.45" />
<line x1="644.90" y1="723.44" x2="663.10" y2="706.44" stroke="#000" stroke-width="1.45" />
<line x1="644.90" y1="742.24" x2="663.10" y2="725.24" stroke="#000" stroke-width="1.45" />
<line x1="644.90" y1="761.04" x2="663.10" y2="744.04" stroke="#000" stroke-width="1.45" />
</g>
<path d="M644.90,730.5 V685.14 H663.10 V730.5" fill="none" stroke="#000" stroke-width="1.45"/>
<line x1="654.00" y1="685.14" x2="654.00" y2="678.98" stroke="#000" stroke-width="1.45" />
<line x1="647.60" y1="678.98" x2="660.40" y2="678.98" stroke="#000" stroke-width="1.45" />
<path d="M679.66,730.5 V670.58 H697.86 V730.5" fill="none" stroke="#ff0000" stroke-width="1.45"/>
<line x1="688.76" y1="670.58" x2="688.76" y2="662.74" stroke="#ff0000" stroke-width="1.45" />
<line x1="682.36" y1="662.74" x2="695.16" y2="662.74" stroke="#ff0000" stroke-width="1.45" />
<clipPath id="hc2"><rect x="699.56" y="670.58" width="18.20" height="59.92"/></clipPath>
<g clip-path="url(#hc2)">
<line x1="699.56" y1="690.08" x2="717.76" y2="673.08" stroke="#ff0000" stroke-width="1.45" />
<line x1="699.56" y1="708.88" x2="717.76" y2="691.88" stroke="#ff0000" stroke-width="1.45" />
<line x1="699.56" y1="727.68" x2="717.76" y2="710.68" stroke="#ff0000" stroke-width="1.45" />
<line x1="699.56" y1="746.48" x2="717.76" y2="729.48" stroke="#ff0000" stroke-width="1.45" />
<line x1="699.56" y1="765.28" x2="717.76" y2="748.28" stroke="#ff0000" stroke-width="1.45" />
</g>
<path d="M699.56,730.5 V670.58 H717.76 V730.5" fill="none" stroke="#ff0000" stroke-width="1.45"/>
<line x1="708.66" y1="670.58" x2="708.66" y2="659.38" stroke="#ff0000" stroke-width="1.45" />
<line x1="702.26" y1="659.38" x2="715.06" y2="659.38" stroke="#ff0000" stroke-width="1.45" />
<path d="M734.32,730.5 V556.12 H752.52 V730.5" fill="none" stroke="#0000ff" stroke-width="1.45"/>
<line x1="743.42" y1="556.12" x2="743.42" y2="538.42" stroke="#0000ff" stroke-width="1.45" />
<line x1="737.02" y1="538.42" x2="749.82" y2="538.42" stroke="#0000ff" stroke-width="1.45" />
<clipPath id="hc3"><rect x="754.22" y="624.10" width="18.20" height="106.40"/></clipPath>
<g clip-path="url(#hc3)">
<line x1="754.22" y1="643.60" x2="772.42" y2="626.60" stroke="#0000ff" stroke-width="1.45" />
<line x1="754.22" y1="662.40" x2="772.42" y2="645.40" stroke="#0000ff" stroke-width="1.45" />
<line x1="754.22" y1="681.20" x2="772.42" y2="664.20" stroke="#0000ff" stroke-width="1.45" />
<line x1="754.22" y1="700.00" x2="772.42" y2="683.00" stroke="#0000ff" stroke-width="1.45" />
<line x1="754.22" y1="718.80" x2="772.42" y2="701.80" stroke="#0000ff" stroke-width="1.45" />
<line x1="754.22" y1="737.60" x2="772.42" y2="720.60" stroke="#0000ff" stroke-width="1.45" />
<line x1="754.22" y1="756.40" x2="772.42" y2="739.40" stroke="#0000ff" stroke-width="1.45" />
<line x1="754.22" y1="775.20" x2="772.42" y2="758.20" stroke="#0000ff" stroke-width="1.45" />
</g>
<path d="M754.22,730.5 V624.10 H772.42 V730.5" fill="none" stroke="#0000ff" stroke-width="1.45"/>
<line x1="763.32" y1="624.10" x2="763.32" y2="598.90" stroke="#0000ff" stroke-width="1.45" />
<line x1="756.92" y1="598.90" x2="769.72" y2="598.90" stroke="#0000ff" stroke-width="1.45" />
<path d="M788.98,730.5 V658.26 H807.18 V730.5" fill="none" stroke="#008700" stroke-width="1.45"/>
<line x1="798.08" y1="658.26" x2="798.08" y2="628.58" stroke="#008700" stroke-width="1.45" />
<line x1="791.68" y1="628.58" x2="804.48" y2="628.58" stroke="#008700" stroke-width="1.45" />
<clipPath id="hc4"><rect x="808.88" y="638.10" width="18.20" height="92.40"/></clipPath>
<g clip-path="url(#hc4)">
<line x1="808.88" y1="657.60" x2="827.08" y2="640.60" stroke="#008700" stroke-width="1.45" />
<line x1="808.88" y1="676.40" x2="827.08" y2="659.40" stroke="#008700" stroke-width="1.45" />
<line x1="808.88" y1="695.20" x2="827.08" y2="678.20" stroke="#008700" stroke-width="1.45" />
<line x1="808.88" y1="714.00" x2="827.08" y2="697.00" stroke="#008700" stroke-width="1.45" />
<line x1="808.88" y1="732.80" x2="827.08" y2="715.80" stroke="#008700" stroke-width="1.45" />
<line x1="808.88" y1="751.60" x2="827.08" y2="734.60" stroke="#008700" stroke-width="1.45" />
<line x1="808.88" y1="770.40" x2="827.08" y2="753.40" stroke="#008700" stroke-width="1.45" />
</g>
<path d="M808.88,730.5 V638.10 H827.08 V730.5" fill="none" stroke="#008700" stroke-width="1.45"/>
<line x1="817.98" y1="638.10" x2="817.98" y2="620.74" stroke="#008700" stroke-width="1.45" />
<line x1="811.58" y1="620.74" x2="824.38" y2="620.74" stroke="#008700" stroke-width="1.45" />
<path d="M843.64,730.5 V678.98 H861.84 V730.5" fill="none" stroke="#909090" stroke-width="1.45"/>
<line x1="852.74" y1="678.98" x2="852.74" y2="670.02" stroke="#909090" stroke-width="1.45" />
<line x1="846.34" y1="670.02" x2="859.14" y2="670.02" stroke="#909090" stroke-width="1.45" />
<clipPath id="hc5"><rect x="863.54" y="692.98" width="18.20" height="37.52"/></clipPath>
<g clip-path="url(#hc5)">
<line x1="863.54" y1="712.48" x2="881.74" y2="695.48" stroke="#909090" stroke-width="1.45" />
<line x1="863.54" y1="731.28" x2="881.74" y2="714.28" stroke="#909090" stroke-width="1.45" />
<line x1="863.54" y1="750.08" x2="881.74" y2="733.08" stroke="#909090" stroke-width="1.45" />
<line x1="863.54" y1="768.88" x2="881.74" y2="751.88" stroke="#909090" stroke-width="1.45" />
</g>
<path d="M863.54,730.5 V692.98 H881.74 V730.5" fill="none" stroke="#909090" stroke-width="1.45"/>
<line x1="872.64" y1="692.98" x2="872.64" y2="684.58" stroke="#909090" stroke-width="1.45" />
<line x1="866.24" y1="684.58" x2="879.04" y2="684.58" stroke="#909090" stroke-width="1.45" />
<path d="M898.30,730.5 V668.90 H916.50 V730.5" fill="none" stroke="#8c0000" stroke-width="1.45"/>
<line x1="907.40" y1="668.90" x2="907.40" y2="660.50" stroke="#8c0000" stroke-width="1.45" />
<line x1="901.00" y1="660.50" x2="913.80" y2="660.50" stroke="#8c0000" stroke-width="1.45" />
<clipPath id="hc6"><rect x="918.20" y="671.70" width="18.20" height="58.80"/></clipPath>
<g clip-path="url(#hc6)">
<line x1="918.20" y1="691.20" x2="936.40" y2="674.20" stroke="#8c0000" stroke-width="1.45" />
<line x1="918.20" y1="710.00" x2="936.40" y2="693.00" stroke="#8c0000" stroke-width="1.45" />
<line x1="918.20" y1="728.80" x2="936.40" y2="711.80" stroke="#8c0000" stroke-width="1.45" />
<line x1="918.20" y1="747.60" x2="936.40" y2="730.60" stroke="#8c0000" stroke-width="1.45" />
<line x1="918.20" y1="766.40" x2="936.40" y2="749.40" stroke="#8c0000" stroke-width="1.45" />
</g>
<path d="M918.20,730.5 V671.70 H936.40 V730.5" fill="none" stroke="#8c0000" stroke-width="1.45"/>
<line x1="927.30" y1="671.70" x2="927.30" y2="663.86" stroke="#8c0000" stroke-width="1.45" />
<line x1="920.90" y1="663.86" x2="933.70" y2="663.86" stroke="#8c0000" stroke-width="1.45" />
<rect x="623.3" y="446.8" width="41.3" height="19.1" fill="none" stroke="#000" stroke-width="1.6"/>
<clipPath id="lgc"><rect x="623.3" y="470.7" width="41.3" height="19.1"/></clipPath>
<g clip-path="url(#lgc)">
<line x1="623.30" y1="489.80" x2="641.30" y2="470.70" stroke="#000" stroke-width="1.6" />
<line x1="642.30" y1="489.80" x2="661.30" y2="470.70" stroke="#000" stroke-width="1.6" />
</g>
<rect x="623.3" y="470.7" width="41.3" height="19.1" fill="none" stroke="#000" stroke-width="1.6"/>
<text x="672.60" y="461.60" font-size="18" text-anchor="start" font-weight="normal" font-style="normal" fill="#000" >Control</text>
<text x="672.60" y="484.90" font-size="18" text-anchor="start" font-weight="normal" font-style="normal" fill="#000" >+stevioside</text>
<path d="M632.7,644.8 V528 H742.7 V535.5" fill="none" stroke="#000" stroke-width="1.4"/>
<path d="M742.7,529.1 H763.8 V578.4" fill="none" stroke="#000" stroke-width="1.4"/>
<path d="M632.7,639.3 H654.7 V669.4" fill="none" stroke="#000" stroke-width="1.4"/>
<path d="M621.5,630.1 V623.2 H665.5 V630.1" fill="none" stroke="#000" stroke-width="1.4"/>
<path d="M671.9,631.8 V625.7 H728.1 V631.8" fill="none" stroke="#000" stroke-width="1.4"/>
<path d="M648.7,623.2 V605.6 H692.6 V625.7" fill="none" stroke="#000" stroke-width="1.4"/>
<path d="M688.8,653.8 V647.9 H708.8 V653.8" fill="none" stroke="#000" stroke-width="1.4"/>
<path d="M729.8,520.5 V514.6 H780.5 V520.5" fill="none" stroke="#000" stroke-width="1.4"/>
<path d="M755.4,514.6 V506.5 H811.1 V576.3" fill="none" stroke="#000" stroke-width="1.4"/>
<path d="M787.1,582.2 V576.3 H834.7 V582.2" fill="none" stroke="#000" stroke-width="1.4"/>
<path d="M797.4,616 V604.3 H818.4 V616" fill="none" stroke="#000" stroke-width="1.4"/>
<path d="M852.8,661.9 V656 H874 V661.9" fill="none" stroke="#000" stroke-width="1.4"/>
<path d="M907.5,654.7 V648.6 H928.1 V654.7" fill="none" stroke="#000" stroke-width="1.4"/>
<text x="686.35" y="528.60" font-size="19.5" text-anchor="middle" font-weight="normal" font-style="normal" fill="#000" letter-spacing="1.5">**</text>
<text x="752.95" y="531.90" font-size="19.5" text-anchor="middle" font-weight="normal" font-style="normal" fill="#000" letter-spacing="1.5">*</text>
<text x="782.75" y="507.80" font-size="19.5" text-anchor="middle" font-weight="normal" font-style="normal" fill="#000" letter-spacing="1.5">*</text>
<text x="670.55" y="608.60" font-size="19.5" text-anchor="middle" font-weight="normal" font-style="normal" fill="#000" letter-spacing="1.5">**</text>
<text x="643.05" y="641.10" font-size="19.5" text-anchor="middle" font-weight="normal" font-style="normal" fill="#000" letter-spacing="1.5">**</text>
<text x="862.95" y="658.30" font-size="19.5" text-anchor="middle" font-weight="normal" font-style="normal" fill="#000" letter-spacing="1.5">*</text>
<text x="699.40" y="642.60" font-size="18.3" text-anchor="middle" font-weight="normal" font-style="normal" fill="#000" >NS</text>
<text x="808.00" y="597.60" font-size="18.3" text-anchor="middle" font-weight="normal" font-style="normal" fill="#000" >NS</text>
<text x="918.00" y="642.90" font-size="18.3" text-anchor="middle" font-weight="normal" font-style="normal" fill="#000" >NS</text>
<text transform="translate(573.75,715.6) rotate(-90)" font-size="18" text-anchor="start" letter-spacing="0.15">AUC<tspan font-size="12" dy="4">0–120 min</tspan><tspan dy="-4"> (×10</tspan><tspan font-size="12" dy="-7">4</tspan><tspan dy="7"> min mg dl</tspan><tspan font-size="12" dy="-7">–1</tspan><tspan dy="7">)</tspan></text>
<text transform="translate(651.50,756.5) rotate(-45)" font-size="18" text-anchor="end">WT-ND</text>
<text transform="translate(706.16,756.5) rotate(-45)" font-size="18" text-anchor="end"><tspan font-style="italic">Trpm5</tspan><tspan font-size="12" dy="-5.5">–/–</tspan><tspan dy="5.5">-ND</tspan></text>
<text transform="translate(760.82,756.5) rotate(-45)" font-size="18" text-anchor="end">WT-HFD</text>
<text transform="translate(815.48,756.5) rotate(-45)" font-size="18" text-anchor="end"><tspan font-style="italic">Trpm5</tspan><tspan font-size="12" dy="-5.5">–/–</tspan><tspan dy="5.5">-HFD</tspan></text>
<text transform="translate(870.14,756.5) rotate(-45)" font-size="18" text-anchor="end">WT/WT</text>
<text transform="translate(924.80,756.5) rotate(-45)" font-size="18" text-anchor="end"><tspan font-style="italic">Trpm5</tspan><tspan font-size="12" dy="-5.5">–/–</tspan><tspan dy="5.5">/WT</tspan></text>
</g></svg>
</body></html>
